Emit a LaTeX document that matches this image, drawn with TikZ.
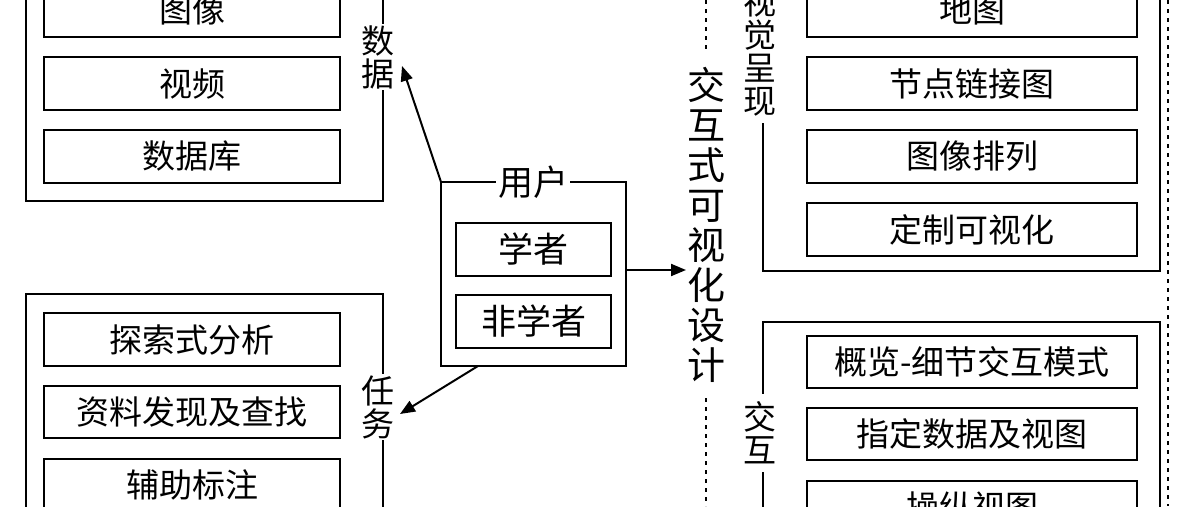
\documentclass[tikz,border=0pt]{standalone}
\usepackage{fontspec}
\setmainfont{Noto Sans CJK SC}
\usetikzlibrary{arrows.meta}
\begin{document}
\begin{tikzpicture}[x=1pt,y=-1pt,
  outer/.style={draw,line width=2.2pt},
  vlab/.style={fill=white,inner sep=1pt,align=center,font=\fontsize{33}{33}\selectfont},
  dots/.style={line width=2pt,dash pattern=on 4pt off 5pt},
  arr/.style={line width=2pt,-{Triangle[length=15pt,width=12pt]}}]
\useasboundingbox (0,0) rectangle (1188,506);
% left top
\draw[outer] (26,-20) -- (26,201) -- (383,201) -- (383,-20);
\foreach \n/\t/\a/\b in {li/图像/-17/37, lv/视频/57/110, ldb/数据库/130/183}
  \draw[line width=1.2pt] (44,\a) rectangle (340,\b) node[midway,font=\fontsize{33}{33}\selectfont] (\n) {\t};
\node[vlab] (data) at (378,57) {数\\据};
% left bottom
\draw[outer] (26,530) -- (26,294) -- (383,294) -- (383,530);
\foreach \n/\t/\a/\b in {t1/探索式分析/313/366, t2/资料发现及查找/386/438, t3/辅助标注/459/511}
  \draw[line width=1.2pt] (44,\a) rectangle (340,\b) node[midway,font=\fontsize{33}{33}\selectfont] (\n) {\t};
\node[vlab] (task) at (378,407) {任\\务};
% user box
\draw[outer] (441,182) rectangle (626,366);
\coordinate (utl) at (441,182);
\coordinate (ubl) at (478,366);
\coordinate (ur) at (626,270);
\node[fill=white,inner sep=2pt,font=\fontsize{35}{35}\selectfont] (user) at (533,182) {用户};
\draw[line width=1.2pt] (456,223) rectangle (611,276) node[midway,font=\fontsize{35}{35}\selectfont] (sch) {学者};
\draw[line width=1.2pt] (456,295) rectangle (611,348) node[midway,font=\fontsize{35}{35}\selectfont] (nsch) {非学者};
\draw[arr] (utl) -- (402,66);
\draw[arr] (ubl) -- (400,414);
% center
\node[align=center,inner sep=0pt,font=\fontsize{38}{40}\selectfont] (design) at (706,225) {交\\互\\式\\可\\视\\化\\设\\计};
\draw[arr] (ur) -- (686,270);
\draw[dots] (706,0) -- (706,52);
\draw[dots] (706,398) -- (706,506);
\draw[dots] (1168,0) -- (1168,506);
% right top
\draw[outer] (763,-20) -- (763,271) -- (1160,271) -- (1160,-20);
\foreach \n/\t/\a/\b in {r1/地图/-17/37, r2/节点链接图/57/110, r3/图像排列/130/183, r4/定制可视化/203/256}
  \draw[line width=1.2pt] (807,\a) rectangle (1137,\b) node[midway,font=\fontsize{33}{33}\selectfont] (\n) {\t};
\node[vlab,inner ysep=6pt] (vis) at (760,52) {视\\觉\\呈\\现};
% right bottom
\draw[outer] (763,530) -- (763,322) -- (1160,322) -- (1160,530);
\foreach \n/\t/\a/\b in {s1/概览-细节交互模式/336/388, s2/指定数据及视图/408/460, s3/操纵视图/481/533}
  \draw[line width=1.2pt] (807,\a) rectangle (1137,\b) node[midway,font=\fontsize{33}{33}\selectfont] (\n) {\t};
\node[vlab,inner ysep=8pt] (inter) at (760,433) {交\\互};
\end{tikzpicture}
\end{document}
